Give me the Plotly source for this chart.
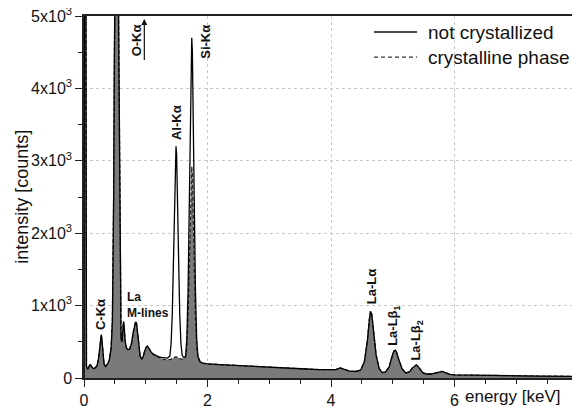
import plotly.graph_objects as go

# ---------------- data ----------------
energy_keV = [
    0.000, 0.010, 0.025, 0.040, 0.060, 0.080, 0.100, 0.120, 0.150, 0.180,
    0.210, 0.235, 0.255, 0.270, 0.280, 0.290, 0.305, 0.325, 0.350, 0.380,
    0.410, 0.440, 0.460, 0.470, 0.480, 0.490, 0.500, 0.510, 0.520, 0.530,
    0.540, 0.550, 0.560, 0.570, 0.580, 0.590, 0.600, 0.615, 0.630, 0.640,
    0.650, 0.665, 0.685, 0.710, 0.740, 0.770, 0.795, 0.815, 0.835, 0.850,
    0.865, 0.885, 0.910, 0.935, 0.960, 0.985, 1.010, 1.030, 1.055, 1.085,
    1.120, 1.160, 1.200, 1.250, 1.300, 1.350, 1.390, 1.410, 1.430, 1.450,
    1.470, 1.480, 1.490, 1.500, 1.510, 1.530, 1.550, 1.570, 1.590, 1.620,
    1.645, 1.665, 1.685, 1.705, 1.725, 1.735, 1.745, 1.755, 1.765, 1.785,
    1.805, 1.825, 1.845, 1.880, 1.920, 1.960, 2.000, 2.200, 2.400, 2.600,
    2.800, 3.000, 3.200, 3.400, 3.600, 3.800, 4.000, 4.080, 4.150, 4.220,
    4.300, 4.400, 4.480, 4.540, 4.590, 4.620, 4.640, 4.660, 4.690, 4.730,
    4.780, 4.830, 4.880, 4.940, 4.990, 5.020, 5.040, 5.060, 5.100, 5.150,
    5.210, 5.270, 5.320, 5.360, 5.380, 5.400, 5.440, 5.490, 5.550, 5.620,
    5.700, 5.760, 5.800, 5.850, 5.920, 6.000, 6.200, 6.500, 6.800, 7.100,
    7.400, 7.700, 8.000,
]

counts_crystalline = [
    0, 9000, 9000, 160, 120, 150, 190, 160, 130, 140,
    170, 260, 430, 580, 600, 530, 330, 190, 160, 190,
    250, 420, 800, 1400, 2500, 4200, 6000, 7500, 8400, 8500,
    7800, 6500, 5000, 3400, 2000, 1000, 550, 500, 700, 780,
    720, 520, 420, 390, 400, 480, 620, 730, 775, 760,
    640, 450, 300, 260, 300, 380, 430, 440, 400, 360,
    330, 310, 290, 270, 255, 250, 255, 260, 265, 275,
    285, 290, 295, 290, 285, 275, 265, 260, 260, 265,
    290, 430, 820, 1590, 2500, 2810, 2920, 2810, 2500, 1590,
    820, 430, 290, 220, 205, 198, 195, 185, 175, 165,
    155, 148, 140, 132, 124, 116, 110, 115, 140, 115,
    95, 90, 110, 220, 520, 800, 920, 880, 650, 320,
    130, 75, 80, 150, 300, 375, 385, 360, 250, 130,
    70, 85, 140, 175, 180, 170, 120, 70, 55, 55,
    70, 88, 90, 75, 50, 42, 38, 35, 32, 30,
    27, 25, 22,
]

counts_not_crystallized = [
    0, 9000, 9000, 160, 120, 150, 190, 160, 130, 140,
    170, 260, 430, 580, 600, 530, 330, 190, 160, 190,
    250, 420, 800, 1400, 2500, 4200, 6000, 7500, 8400, 8500,
    7800, 6500, 5000, 3400, 2000, 1000, 550, 500, 700, 780,
    720, 520, 420, 390, 400, 480, 620, 730, 775, 760,
    640, 450, 300, 260, 300, 380, 430, 440, 400, 360,
    330, 310, 295, 285, 275, 275, 300, 470, 890, 1740,
    2740, 3080, 3200, 3080, 2740, 1740, 890, 470, 310, 280,
    300, 540, 1200, 2480, 3980, 4510, 4700, 4510, 3980, 2480,
    1200, 540, 300, 225, 205, 198, 195, 185, 175, 165,
    155, 148, 140, 132, 124, 116, 110, 115, 140, 115,
    95, 90, 110, 220, 520, 800, 920, 880, 650, 320,
    130, 75, 80, 150, 300, 375, 385, 360, 250, 130,
    70, 85, 140, 175, 180, 170, 120, 70, 55, 55,
    70, 88, 90, 75, 50, 42, 38, 35, 32, 30,
    27, 25, 22,
]

x_tick_values = [0, 2, 4, 6, 8]
x_tick_labels = ["0", "2", "4", "6", "8"]
y_tick_values = [0, 1000, 2000, 3000, 4000, 5000]
y_tick_labels = ["0", "1x10<sup>3</sup>", "2x10<sup>3</sup>", "3x10<sup>3</sup>",
                 "4x10<sup>3</sup>", "5x10<sup>3</sup>"]

series_names = ["not crystallized", "crystalline phase"]

# peak labels: (text, x keV, y counts)
peak_labels = [
    ("C-Kα", 0.26, 870),
    ("O-Kα", 0.854, 4660),
    ("Al-Kα", 1.50, 3530),
    ("Si-Kα", 1.966, 4650),
    ("La-Lα", 4.65, 1255),
    ("La-Lβ<sub>1</sub>", 5.02, 720),
    ("La-Lβ<sub>2</sub>", 5.38, 520),
]

FONT = "Liberation Sans, Arial, sans-serif"

fig = go.Figure()

fig.add_trace(go.Scatter(
    x=energy_keV, y=counts_crystalline, mode="lines",
    name=series_names[1], fill="tozeroy", fillcolor="#7a7a7a",
    line=dict(color="#2a2a2a", width=1.3, dash="4px,2px"),
    showlegend=False,
))
fig.add_trace(go.Scatter(
    x=energy_keV, y=counts_not_crystallized, mode="lines",
    name=series_names[0],
    line=dict(color="#000000", width=1.3),
    showlegend=False,
))

annotations = []
for text, xx, yy in peak_labels:
    annotations.append(dict(
        x=xx, y=yy, xref="x", yref="y", text="<b>" + text + "</b>",
        textangle=-90, showarrow=False,
        font=dict(family=FONT, size=13, color="#111"),
        xanchor="center", yanchor="middle",
    ))

# La M-lines (horizontal)
annotations.append(dict(
    x=0.67, y=1010, xref="x", yref="y", text="<b>La<br>M-lines</b>",
    align="left", showarrow=False, xanchor="left", yanchor="middle",
    font=dict(family=FONT, size=12, color="#111"),
))

# arrow next to O-Kα
annotations.append(dict(
    x=0.977, y=4960, xref="x", yref="y", ax=0.977, ay=4370,
    axref="x", ayref="y", text="", showarrow=True,
    arrowhead=2, arrowsize=1, arrowwidth=1.2, arrowcolor="#111",
))

# x axis title, placed between the 6 and 8 tick labels
annotations.append(dict(
    x=6.94, y=-0.052, xref="x", yref="paper", text="energy [keV]",
    showarrow=False, xanchor="center", yanchor="middle",
    font=dict(family=FONT, size=17, color="#111"),
))

# y axis title
annotations.append(dict(
    x=-0.126, y=0.5, xref="paper", yref="paper", text="intensity [counts]",
    textangle=-90, showarrow=False, xanchor="center", yanchor="middle",
    font=dict(family=FONT, size=18, color="#111"),
))

# manual legend
legend_rows = [(4779, "solid", series_names[0]), (4433, "4px,3px", series_names[1])]
shapes = []
for yy, dash, name in legend_rows:
    shapes.append(dict(
        type="line", xref="x", yref="y", x0=4.696, x1=5.393, y0=yy, y1=yy,
        line=dict(color="#111" if dash == "solid" else "#333", width=1.3, dash=dash),
    ))
    annotations.append(dict(
        x=5.54, y=yy, xref="x", yref="y", text=name, showarrow=False,
        xanchor="left", yanchor="middle",
        font=dict(family=FONT, size=19, color="#111"),
    ))

# the page body adds an 8px offset, so the figure is 8px smaller and shifted
fig.update_layout(
    width=572, height=400,
    margin=dict(l=76, r=2, t=8, b=30, autoexpand=False),
    paper_bgcolor="white", plot_bgcolor="white",
    font=dict(family=FONT, size=16, color="#111"),
    annotations=annotations, shapes=shapes,
    showlegend=False,
)

fig.update_xaxes(
    range=[0, 8], tickvals=x_tick_values, ticktext=x_tick_labels,
    showline=True, linecolor="#222", linewidth=1.5, mirror=True,
    ticks="outside", ticklen=7, tickwidth=1.3, tickcolor="#222",
    minor=dict(dtick=0.5, tick0=0, ticks="outside", ticklen=4, tickwidth=1.2,
               tickcolor="#222", showgrid=False),
    showgrid=True, gridcolor="#c8c8c8", griddash="dot", gridwidth=1,
    zeroline=False, tickfont=dict(size=16), automargin=False,
    ticklabeloverflow="allow",
)
fig.update_yaxes(
    range=[0, 5000], tickvals=y_tick_values, ticktext=y_tick_labels,
    showline=True, linecolor="#222", linewidth=1.5, mirror=True,
    ticks="outside", ticklen=7, tickwidth=1.3, tickcolor="#222",
    minor=dict(dtick=500, tick0=0, ticks="outside", ticklen=4, tickwidth=1.2,
               tickcolor="#222", showgrid=False),
    showgrid=True, gridcolor="#c8c8c8", griddash="dot", gridwidth=1,
    zeroline=False, tickfont=dict(size=16), automargin=False,
    ticklabeloverflow="allow",
)

fig.write_html("out.html")
